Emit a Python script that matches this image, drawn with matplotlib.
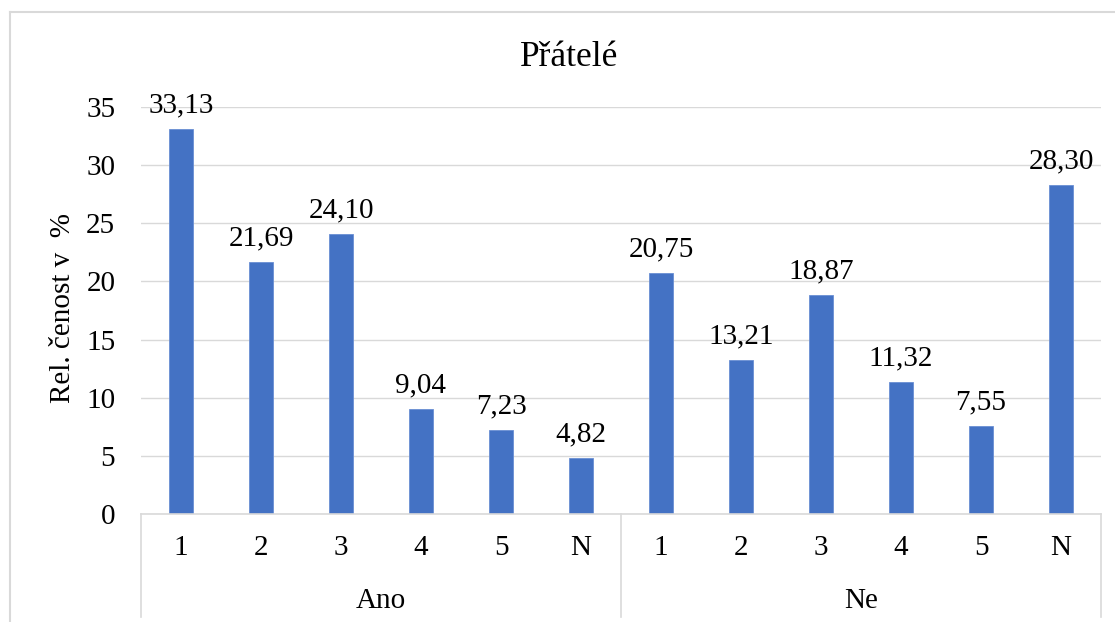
import matplotlib
matplotlib.use('Agg')
import matplotlib.pyplot as plt
from matplotlib.lines import Line2D

# ---------------------------------------------------------------------------
# Data
# ---------------------------------------------------------------------------
groups = ['Ano', 'Ne']
answers = ['1', '2', '3', '4', '5', 'N']
ano_values = [33.13, 21.69, 24.10, 9.04, 7.23, 4.82]
ne_values = [20.75, 13.21, 18.87, 11.32, 7.55, 28.30]

title = 'Přátelé'
ylabel = 'Rel. čenost v  %'

BAR_COLOR = '#4472C4'
LINE_GRAY = '#D9D9D9'
FS = 21

plt.rcParams['font.family'] = ['Liberation Serif', 'DejaVu Serif']

W, H = 1115, 622
fig = plt.figure(figsize=(W / 100, H / 100), dpi=100)

# plot area in pixel coords
x0, x1, y0, y1 = 141, 1101, 514, 107
ax = fig.add_axes([x0 / W, 1 - y0 / H, (x1 - x0) / W, (y0 - y1) / H])

values = ano_values + ne_values
cats = answers * len(groups)
xs = list(range(len(values)))

ax.bar(xs, values, width=0.31, color=BAR_COLOR, edgecolor='#6A8FD3',
       lw=0.6, zorder=3)
for x, v in zip(xs, values):
    ax.annotate(f'{v:.2f}'.replace('.', ','), (x, v), xytext=(0, 12),
                textcoords='offset points', ha='center', va='baseline',
                fontsize=FS, annotation_clip=False)

ax.set_xlim(-0.5, len(values) - 0.5)
ax.set_ylim(0, 35)
ax.set_yticks(range(0, 36, 5))
ax.tick_params(axis='y', length=0, pad=18.5, labelsize=FS)
ax.set_xticks([])
ax.grid(axis='y', color=LINE_GRAY, lw=1, zorder=0)
for s in ax.spines.values():
    s.set_visible(False)

# multi-level category axis
tr = ax.get_xaxis_transform()
px = (y0 - y1)
ax.plot([-0.5, len(values) - 0.5], [0, 0], transform=tr, color=LINE_GRAY,
        lw=1.2, clip_on=False, zorder=4)
n = len(answers)
for i in range(len(groups) + 1):
    xb = i * n - 0.5
    ax.plot([xb, xb], [0, (y0 - 617) / px], transform=tr, color=LINE_GRAY,
            lw=1.2, clip_on=False)
for x, c in zip(xs, cats):
    ax.text(x, (y0 - 548) / px, c, transform=tr, ha='center', va='center',
            fontsize=FS)
for i, g in enumerate(groups):
    ax.text(i * n + (n - 1) / 2, (y0 - 601) / px, g, transform=tr,
            ha='center', va='center', fontsize=FS)

fig.text(569 / W, 1 - 58 / H, title, ha='center', va='center', fontsize=25.5)
fig.text(63 / W, 1 - 308 / H, ylabel, rotation=90, ha='center', va='center',
         fontsize=FS)

# chart-area border (top and left visible)
fig.add_artist(Line2D([10 / W, 10 / W], [0, 1 - 12 / H], color=LINE_GRAY, lw=1.5))
fig.add_artist(Line2D([10 / W, 1], [1 - 12 / H, 1 - 12 / H], color=LINE_GRAY, lw=1.5))

fig.savefig('out.png', dpi=100)
